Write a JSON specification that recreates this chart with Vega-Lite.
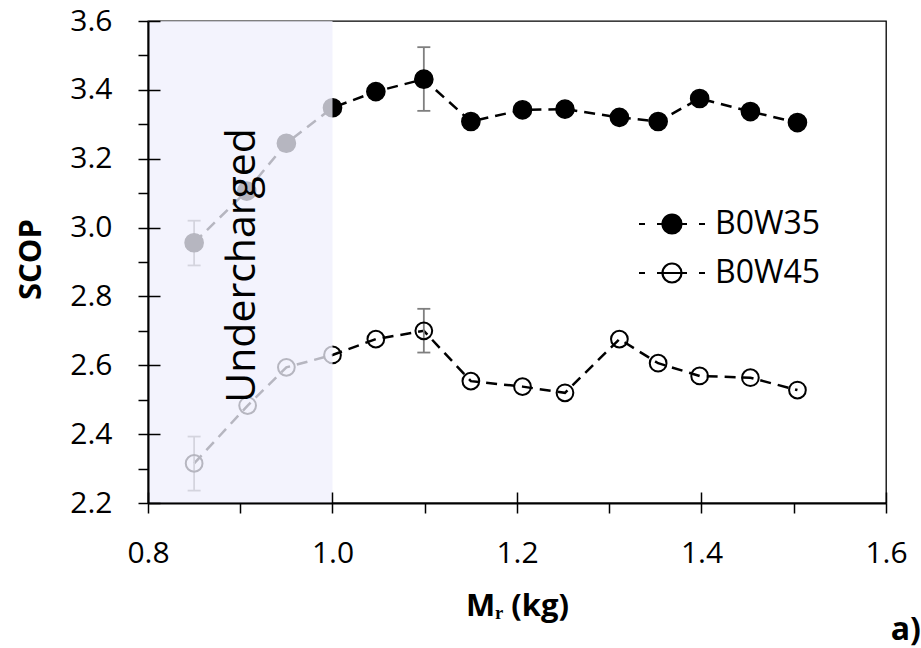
{
  "$schema": "https://vega.github.io/schema/vega-lite/v6.json",
  "width": 738,
  "height": 482,
  "autosize": "none",
  "padding": {"left": 148, "top": 21, "right": 35, "bottom": 145},
  "background": "white",
  "config": {"view": {"stroke": "black", "strokeWidth": 1.3}, "font": "Open Sans"},
  "data": {
    "values": [
      {"s": "B0W35", "m": 0.85, "v": 2.956, "lo": 2.89, "hi": 3.02},
      {"s": "B0W35", "m": 0.907, "v": 3.106},
      {"s": "B0W35", "m": 0.95, "v": 3.245},
      {"s": "B0W35", "m": 1.0, "v": 3.348},
      {"s": "B0W35", "m": 1.047, "v": 3.395},
      {"s": "B0W35", "m": 1.099, "v": 3.431, "lo": 3.339, "hi": 3.524},
      {"s": "B0W35", "m": 1.15, "v": 3.308},
      {"s": "B0W35", "m": 1.206, "v": 3.342},
      {"s": "B0W35", "m": 1.252, "v": 3.344},
      {"s": "B0W35", "m": 1.311, "v": 3.32},
      {"s": "B0W35", "m": 1.353, "v": 3.308},
      {"s": "B0W35", "m": 1.398, "v": 3.375},
      {"s": "B0W35", "m": 1.453, "v": 3.337},
      {"s": "B0W35", "m": 1.504, "v": 3.305},
      {"s": "B0W45", "m": 0.85, "v": 2.315, "lo": 2.236, "hi": 2.393},
      {"s": "B0W45", "m": 0.908, "v": 2.483},
      {"s": "B0W45", "m": 0.95, "v": 2.594},
      {"s": "B0W45", "m": 1.0, "v": 2.63},
      {"s": "B0W45", "m": 1.047, "v": 2.676},
      {"s": "B0W45", "m": 1.099, "v": 2.7, "lo": 2.637, "hi": 2.764},
      {"s": "B0W45", "m": 1.15, "v": 2.554},
      {"s": "B0W45", "m": 1.206, "v": 2.538},
      {"s": "B0W45", "m": 1.252, "v": 2.52},
      {"s": "B0W45", "m": 1.311, "v": 2.676},
      {"s": "B0W45", "m": 1.353, "v": 2.606},
      {"s": "B0W45", "m": 1.398, "v": 2.569},
      {"s": "B0W45", "m": 1.453, "v": 2.564},
      {"s": "B0W45", "m": 1.504, "v": 2.528}
    ]
  },
  "resolve": {"axis": {"x": "independent", "y": "independent"}},
  "layer": [
    {
      "mark": {"type": "line", "color": "black", "strokeWidth": 2.5, "strokeDash": [11, 7]},
      "encoding": {
        "x": {
          "field": "m", "type": "quantitative",
          "scale": {"domain": [0.8, 1.6], "nice": false, "zero": false},
          "axis": {
            "orient": "bottom",
            "values": [0.8, 0.9, 1.0, 1.1, 1.2, 1.3, 1.4, 1.5, 1.6],
            "labelExpr": "abs(round(datum.value*10)%2)==0 ? format(datum.value,'.1f') : ''",
            "tickSize": 10, "tickColor": "black", "tickWidth": 1.5,
            "domainColor": "black", "domainWidth": 2,
            "labelFont": "Open Sans", "labelFontSize": 30, "labelColor": "black", "labelPadding": 25,
            "labelFlush": false, "labelOverlap": false, "grid": false,
            "title": "Mᵣ (kg)", "titleFont": "Open Sans", "titleFontSize": 31, "titleFontWeight": "bold",
            "titleColor": "black", "titleX": 369, "titleY": 112, "titleBaseline": "alphabetic", "titleAlign": "center",
            "zindex": 1
          }
        },
        "y": {
          "field": "v", "type": "quantitative",
          "scale": {"domain": [2.2, 3.6], "nice": false, "zero": false},
          "axis": {
            "orient": "left",
            "values": [2.2, 2.3, 2.4, 2.5, 2.6, 2.7, 2.8, 2.9, 3.0, 3.1, 3.2, 3.3, 3.4, 3.5, 3.6],
            "labelExpr": "abs(round(datum.value*10)%2)==0 ? format(datum.value,'.1f') : ''",
            "tickSize": 10, "tickColor": "black", "tickWidth": 1.5,
            "domainColor": "black", "domainWidth": 2,
            "labelFont": "Open Sans", "labelFontSize": 30, "labelColor": "black", "labelPadding": 26,
            "labelFlush": false, "labelOverlap": false, "grid": false,
            "title": "SCOP", "titleFont": "Open Sans", "titleFontSize": 31, "titleFontWeight": "bold",
            "titleColor": "black", "titleX": -108, "titleY": 238, "titleAngle": 270,
            "titleBaseline": "alphabetic", "titleAlign": "center",
            "zindex": 1
          }
        },
        "detail": {"field": "s", "type": "nominal"}
      }
    },
    {
      "transform": [{"filter": "isValid(datum.lo)"}],
      "mark": {"type": "rule", "color": "#7f7f7f", "strokeWidth": 1.8},
      "encoding": {
        "x": {
          "field": "m", "type": "quantitative",
          "axis": {
            "orient": "bottom", "values": [0.8, 1.0, 1.2, 1.4, 1.6], "tickSize": -11,
            "tickColor": "black", "tickWidth": 1.5, "labels": false, "domain": false,
            "grid": false, "title": null, "zindex": 1
          }
        },
        "y": {
          "field": "lo", "type": "quantitative",
          "axis": {
            "orient": "left", "values": [2.2, 2.4, 2.6, 2.8, 3.0, 3.2, 3.4, 3.6], "tickSize": -12,
            "tickColor": "black", "tickWidth": 1.5, "labels": false, "domain": false,
            "grid": false, "title": null, "zindex": 1
          }
        },
        "y2": {"field": "hi"}
      }
    },
    {
      "transform": [{"filter": "isValid(datum.lo)"}],
      "mark": {"type": "point", "shape": "stroke", "size": 169, "stroke": "#7f7f7f", "strokeWidth": 1.8, "opacity": 1},
      "encoding": {
        "x": {"field": "m", "type": "quantitative", "axis": null},
        "y": {"field": "lo", "type": "quantitative", "axis": null}
      }
    },
    {
      "transform": [{"filter": "isValid(datum.lo)"}],
      "mark": {"type": "point", "shape": "stroke", "size": 169, "stroke": "#7f7f7f", "strokeWidth": 1.8, "opacity": 1},
      "encoding": {
        "x": {"field": "m", "type": "quantitative", "axis": null},
        "y": {"field": "hi", "type": "quantitative", "axis": null}
      }
    },
    {
      "transform": [{"filter": "datum.s == 'B0W35'"}],
      "mark": {"type": "point", "size": 330, "stroke": "black", "strokeWidth": 1.5, "opacity": 1},
      "encoding": {
        "x": {"field": "m", "type": "quantitative", "axis": null},
        "y": {"field": "v", "type": "quantitative", "axis": null},
        "fill": {
          "field": "s", "type": "nominal",
          "scale": {"domain": ["B0W35", "B0W45"], "range": ["black", "rgba(255,255,255,0)"]},
          "legend": {
            "title": null, "orient": "none", "legendX": 508, "legendY": 187, "padding": 0,
            "direction": "vertical", "rowPadding": 17,
            "symbolType": "M0.95,0A0.95,0.95,0,1,1,-0.95,0A0.95,0.95,0,1,1,0.95,0ZM-3.3,0H-2.7M-1.5,0H1.5M2.7,0H3.3",
            "symbolSize": 400, "symbolStrokeColor": "black", "symbolStrokeWidth": 2.2, "symbolOpacity": 1,
            "labelFont": "Open Sans", "labelFontSize": 32, "labelColor": "black", "labelOffset": 27,
            "labelBaseline": "middle"
          }
        }
      }
    },
    {
      "transform": [{"filter": "datum.s == 'B0W45'"}],
      "mark": {"type": "point", "size": 280, "stroke": "black", "strokeWidth": 2, "opacity": 1},
      "encoding": {
        "x": {"field": "m", "type": "quantitative", "axis": null},
        "y": {"field": "v", "type": "quantitative", "axis": null},
        "fill": {"field": "s", "type": "nominal"}
      }
    },
    {
      "data": {"values": [{}]},
      "mark": {"type": "rect", "fill": "#EFEFFD", "opacity": 0.76},
      "encoding": {
        "x": {"datum": 0.8, "type": "quantitative", "axis": null},
        "x2": {"datum": 1.0},
        "y": {"datum": 2.2, "type": "quantitative", "axis": null},
        "y2": {"datum": 3.6}
      }
    },
    {
      "data": {"values": [{}]},
      "mark": {"type": "text", "text": "Undercharged", "angle": 270, "font": "Open Sans", "fontSize": 41,
               "color": "black", "align": "center", "baseline": "alphabetic"},
      "encoding": {
        "x": {"datum": 0.9165, "type": "quantitative", "axis": null},
        "y": {"datum": 2.89, "type": "quantitative", "axis": null}
      }
    },
    {
      "data": {"values": [{}]},
      "mark": {"type": "text", "text": "a)", "font": "Open Sans", "fontSize": 32, "fontWeight": "bold",
               "color": "black", "align": "center", "baseline": "middle"},
      "encoding": {
        "x": {"datum": 1.6214, "type": "quantitative", "axis": null},
        "y": {"datum": 1.83, "type": "quantitative", "axis": null}
      }
    }
  ]
}
